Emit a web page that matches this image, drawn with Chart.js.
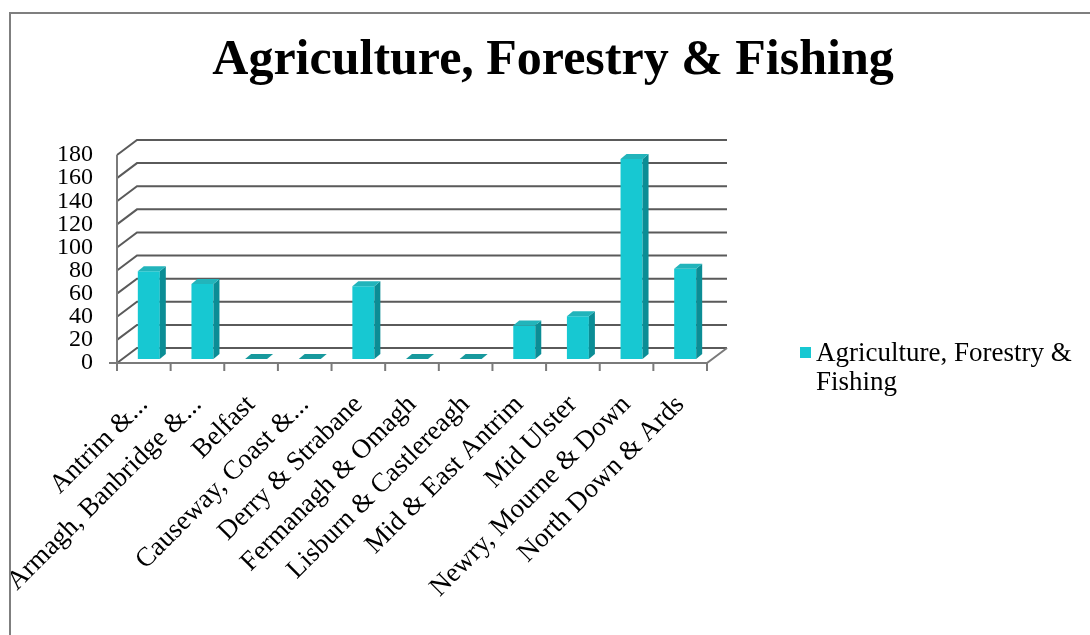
<!DOCTYPE html>
<html>
<head>
<meta charset="utf-8">
<script src="https://cdn.jsdelivr.net/npm/chart.js@4"></script>
<style>
  html, body { margin: 0; padding: 0; background: #fff; }
  #wrap { position: relative; width: 1090px; height: 635px; }
  #moldura { position: absolute; left: 9px; top: 12px; right: 0; bottom: 0; border-left: 2px solid #7f7f7f; border-top: 2px solid #7f7f7f; pointer-events: none; }
</style>
</head>
<body>
<div id="wrap">
  <canvas id="meuGrafico" width="1090" height="635"></canvas>
  <div id="moldura"></div>
</div>
<script>
// dados
const categorias = [
    'Antrim &...',
    'Armagh, Banbridge &...',
    'Belfast',
    'Causeway, Coast &...',
    'Derry & Strabane',
    'Fermanagh & Omagh',
    'Lisburn & Castlereagh',
    'Mid & East Antrim',
    'Mid Ulster',
    'Newry, Mourne & Down',
    'North Down & Ards'
];
const valores = [76, 65, 0, 0, 63, 0, 0, 29, 37, 173, 78];
const titulo = 'Agriculture, Forestry & Fishing';
const rotuloLegenda = ['Agriculture, Forestry &', 'Fishing'];
const eixoY = { min: 0, max: 180, passo: 20 };

const fonte = 'Liberation Serif';
const corFrente = '#17c8d2';
const corLado = '#0b8d95';
const corTopo = '#22b4bb';
const corPlano = '#17999d';
const corGrade = '#5a5a5a';

// profundidade da "caixa" 3D (parede do fundo) e das barras
const DX = 20, DY = -15;
const BX = 5, BY = -4;
const PX = 6, PY = -5;

const efeito3D = {
    id: 'efeito3D',
    beforeDatasetsDraw(chart) {
        const { ctx, chartArea: a, scales: { x, y } } = chart;
        ctx.save();
        ctx.lineWidth = 2;
        ctx.strokeStyle = corGrade;
        // linhas da parede do fundo + diagonais da parede lateral
        y.ticks.forEach(t => {
            const py = y.getPixelForValue(t.value);
            ctx.beginPath();
            ctx.moveTo(a.left, py);
            ctx.lineTo(a.left + DX, py + DY);
            ctx.lineTo(a.right + DX, py + DY);
            ctx.stroke();
        });
        // piso
        const y0 = y.getPixelForValue(0);
        ctx.strokeStyle = '#7a7a7a';
        ctx.beginPath();
        ctx.moveTo(a.left, y0);
        ctx.lineTo(a.right, y0);
        ctx.lineTo(a.right + DX, y0 + DY);
        ctx.stroke();
        // eixo vertical da frente
        ctx.beginPath();
        ctx.moveTo(a.left, y.getPixelForValue(eixoY.max));
        ctx.lineTo(a.left, y0);
        ctx.lineTo(a.left - 8, y0);
        ctx.stroke();
        // marcas do eixo x
        for (let i = 0; i <= categorias.length; i++) {
            const px = x.getPixelForValue(i - 0.5);
            ctx.beginPath();
            ctx.moveTo(px, y0);
            ctx.lineTo(px, y0 + 8);
            ctx.stroke();
        }
        ctx.restore();

        // as barras ficam no meio da profundidade
        ctx.save();
        ctx.translate(BX, BY);
    },
    afterDatasetsDraw(chart) {
        const { ctx } = chart;
        const meta = chart.getDatasetMeta(0);
        meta.data.forEach(barra => {
            const { x: cx, y: topo, base, width } = barra.getProps(['x', 'y', 'base', 'width'], true);
            const esq = cx - width / 2;
            const dir = cx + width / 2;
            if (base - topo > 0.5) {
                ctx.fillStyle = corLado;
                ctx.beginPath();
                ctx.moveTo(dir, topo);
                ctx.lineTo(dir + PX, topo + PY);
                ctx.lineTo(dir + PX, base + PY);
                ctx.lineTo(dir, base);
                ctx.closePath();
                ctx.fill();
            }
            ctx.fillStyle = (base - topo > 0.5) ? corTopo : corPlano;
            ctx.beginPath();
            ctx.moveTo(esq, topo);
            ctx.lineTo(esq + PX, topo + PY);
            ctx.lineTo(dir + PX, topo + PY);
            ctx.lineTo(dir, topo);
            ctx.closePath();
            ctx.fill();
        });
        ctx.restore();
    },
    afterDraw(chart) {
        // legenda desenhada à mão (a do Chart.js corta o texto longo)
        const { ctx } = chart;
        ctx.save();
        ctx.fillStyle = corFrente;
        ctx.fillRect(800, 347, 11, 11);
        ctx.fillStyle = '#000';
        ctx.font = '27px "' + fonte + '"';
        ctx.textBaseline = 'alphabetic';
        rotuloLegenda.forEach((linha, i) => ctx.fillText(linha, 816, 361 + i * 29));
        ctx.restore();
    }
};

const ctx = document.getElementById('meuGrafico').getContext('2d');
const myChart = new Chart(ctx, {
    type: 'bar',
    data: {
        labels: categorias,
        datasets: [{
            label: titulo,
            data: valores,
            backgroundColor: corFrente,
            borderWidth: 0,
            categoryPercentage: 1,
            barPercentage: 0.41
        }]
    },
    options: {
        responsive: false,
        animation: false,
        layout: { padding: { left: 16, top: 0, right: 0, bottom: 0 } },
        plugins: {
            tooltip: { enabled: false },
            legend: { display: false },
            title: {
                display: true,
                text: titulo,
                color: '#000',
                font: { family: fonte, size: 50, weight: 'bold' },
                padding: { top: 31, bottom: 64 }
            }
        },
        scales: {
            x: {
                offset: true,
                grid: { display: false, drawTicks: false },
                border: { display: false },
                ticks: {
                    color: '#000',
                    autoSkip: false,
                    minRotation: 45,
                    maxRotation: 45,
                    padding: 26,
                    font: { family: fonte, size: 27 }
                },
                afterFit(escala) {
                    escala.height = 272;
                    // espaço livre à direita, onde fica a legenda
                    escala.paddingRight = 383;
                }
            },
            y: {
                min: eixoY.min,
                max: eixoY.max,
                grid: { display: false, drawTicks: false },
                border: { display: false },
                ticks: {
                    stepSize: eixoY.passo,
                    autoSkip: false,
                    padding: 24,
                    color: '#000',
                    font: { family: fonte, size: 24, lineHeight: 1 }
                },
                afterFit(escala) { escala.width = 101; }
            }
        }
    },
    plugins: [efeito3D]
});
</script>
</body>
</html>
